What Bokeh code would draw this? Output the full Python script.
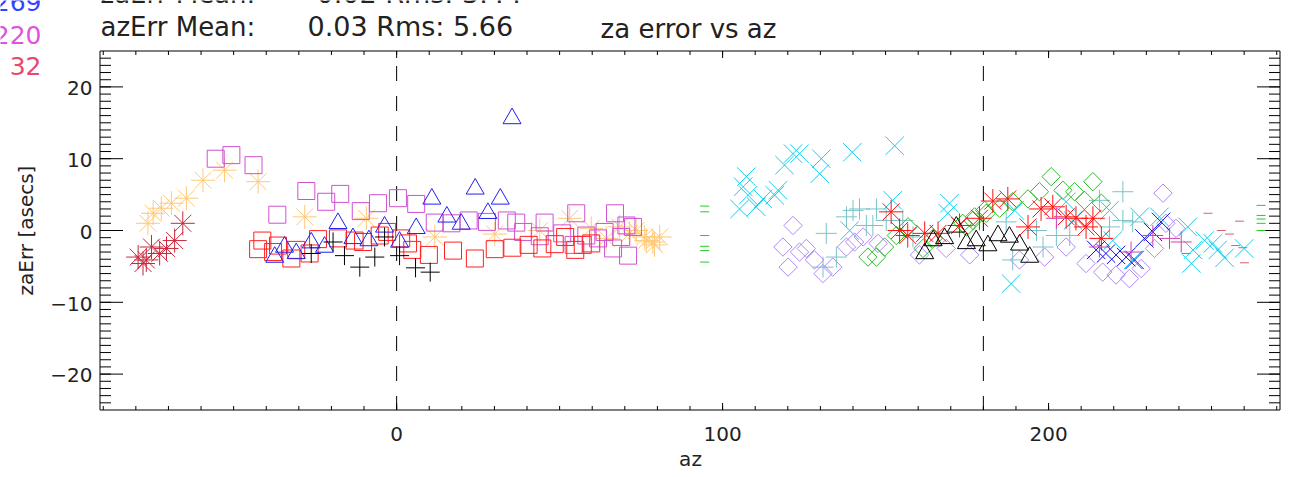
import numpy as np
from bokeh.plotting import figure
from bokeh.models import Range1d
from bokeh.core.properties import value
from bokeh.embed import file_html
from bokeh.resources import INLINE

# ---------------- data ----------------
# dark red asterisks
s1_x = [-79.3, -77.8, -76.8, -75.2, -72.7, -70.6, -68.1, -65.6]
s1_y = [-3.7, -4.6, -4.1, -2.3, -3.2, -2.5, -1.4, 1.0]
# light orange asterisks
s2_x = [-76.3, -74.7, -72.2, -69.1, -64.5, -59.4, -52.8, -42.5, -28.2, -9.3, 11.7, 30.1, 43.9,
        53.1, 59.7, 64.3, 68.4, 71.5, 73.5, 76.1, 78.6, 80.7, 79.1, 76.6]
s2_y = [1.0, 2.4, 3.1, 3.8, 4.5, 7.0, 8.4, 6.8, 1.9, 1.7, -0.9, -0.5, 0.0,
        1.7, 0.3, -1.1, 0.5, -0.4, 0.0, -0.9, -1.6, -0.9, -2.0, -1.4]
# magenta squares
s3_x = [-55.5, -50.7, -43.9, -36.6, -27.7, -21.6, -17.3, -11.0, -5.7, 0.4, 6.0, 11.7, 16.8, 22.1,
        27.7, 33.8, 36.7, 38.8, 45.4, 43.9, 50.8, 55.1, 54.3, 58.2, 61.8, 67.0, 63.8, 66.4, 70.5,
        71.0, 68.9, 72.5]
s3_y = [10.0, 10.5, 9.1, 2.2, 5.5, 4.0, 5.1, 2.7, 3.8, 4.5, 3.7, 1.1, 1.0, 1.4,
        1.2, 1.4, 1.1, -0.2, 1.1, -0.8, -0.4, 2.4, -2.0, -0.7, -1.1, 2.4, -0.2, -2.5, 0.7,
        -3.5, -0.9, 0.5]
# red squares
s4_x = [-41.2, -42.5, -36.4, -37.9, -32.3, -30.8, -26.7, -24.1, -18.0, -12.9, -10.3, -5.2, -2.9,
        1.4, 3.5, 4.8, 9.9, 17.3, 24.0, 30.1, 35.5, 40.5, 44.7, 48.5, 51.7, 54.8, 57.1, 59.7]
s4_y = [-1.4, -2.6, -2.1, -3.0, -3.9, -2.7, -3.2, -1.2, -1.1, -1.4, -1.6, -0.7, -0.2,
        -1.1, -1.8, -2.7, -3.4, -2.8, -3.9, -2.6, -2.4, -2.0, -2.5, -1.9, -0.9, -2.7, -2.0, -1.8]
# blue triangles
s5_x = [-37.4, -34.4, -30.8, -26.2, -22.1, -18.0, -13.4, -8.5, -3.7, 0.9, 6.0, 10.8, 15.4, 19.8,
        24.1, 28.0, 31.8, 35.4]
s5_y = [-3.7, -2.3, -3.2, -1.7, -2.3, 1.0, -1.1, -1.4, 0.5, -1.6, 0.3, 4.4, 1.9, 0.9,
        5.8, 2.4, 4.4, 15.6]
# black plus
s6_x = [-26.2, -19.5, -16.0, -11.3, -6.7, -3.7, 0.9, 5.8, 10.3]
s6_y = [-3.2, -1.6, -3.5, -5.1, -3.7, -0.9, -3.5, -5.2, -5.8]
# green dashes
s7_x = [94.5, 94.5, 94.5, 94.5, 94.5, 94.5, 265.2, 265.2, 265.2, 265.2, 265.2]
s7_y = [3.4, 2.6, -0.7, -2.2, -2.8, -4.4, 3.5, 2.1, 1.6, 1.0, 0.0]
# cyan X
s8_x = [107.3, 106.3, 105.2, 107.8, 110.3, 112.4, 116.0, 117.0, 119.0, 121.6, 123.6, 130.3, 129.8,
        139.8, 152.8, 139.0, 152.2, 169.6, 169.1, 188.5, 189.6, 205.4, 207.5, 218.7, 219.7, 227.9,
        225.9, 234.0, 242.7, 244.3, 243.8, 247.9, 250.4, 251.9, 254.0, 260.0]
s8_y = [7.5, 6.1, 3.0, 4.9, 3.3, 4.4, 4.9, 5.6, 9.1, 10.7, 10.7, 10.0, 7.9,
        10.9, 11.8, 0.0, 4.2, 3.8, 2.4, -7.4, 2.8, 4.0, 1.4, 2.8, -1.4, 1.9,
        -4.1, 1.9, 0.5, -2.7, -4.6, -1.4, -1.8, -2.7, -3.8, -2.5]
# light teal plus
s9_x = [131.8, 130.8, 134.9, 138.0, 140.0, 142.0, 144.1, 147.2, 146.1, 150.2, 155.3, 158.4, 187.0,
        189.0, 196.3, 198.3, 202.4, 206.5, 215.6, 218.7, 222.8, 222.8, 225.8]
s9_y = [-0.4, -5.1, -3.7, 1.9, 2.8, 3.0, 0.7, 3.0, 0.7, 1.4, 1.4, -0.9, 1.2,
        -4.1, 0.0, -2.3, -0.7, -0.7, 4.2, 0.5, 5.4, 1.4, 1.2]
# lavender diamonds
s10_x = [121.6, 118.5, 120.1, 123.6, 125.7, 128.2, 130.8, 133.8, 138.0, 140.5, 143.1, 147.7, 160.4,
         168.6, 175.8, 191.1, 198.8, 205.4, 211.5, 216.6, 220.7, 224.8, 228.4, 232.5, 235.1, 236.0,
         239.1]
s10_y = [0.7, -2.3, -5.1, -3.0, -2.5, -4.1, -6.0, -5.1, -2.3, -1.6, -0.9, -1.8, -3.4,
         -2.5, -3.4, -4.1, -3.7, -2.3, -4.6, -5.8, -6.2, -6.7, -5.3, -2.5, 5.2, 1.0, 0.3]
# green diamonds
s11_x = [144.6, 147.2, 149.7, 153.3, 156.9, 161.5, 164.6, 173.7, 174.8, 176.8, 177.3, 180.4, 180.9,
         185.0, 189.0, 193.7, 197.2, 200.8, 204.4, 208.0, 211.0, 213.6, 216.2]
s11_y = [-3.7, -3.7, -2.3, -0.7, 0.5, -2.5, -1.1, 1.0, 0.5, 1.4, 1.9, 2.8, 2.4,
         3.1, 4.0, 4.4, 5.4, 7.5, 5.6, 5.4, 4.2, 6.8, 3.8]
# red asterisks
s12_x = [151.7, 154.3, 156.8, 162.0, 166.1, 172.7, 178.8, 182.9, 187.5, 193.7, 197.7, 201.3, 205.4,
         208.4, 211.5, 213.6, 216.2]
s12_y = [2.6, 0.0, -0.7, -0.4, -0.4, 0.7, 1.7, 4.1, 4.4, 0.5, 3.0, 3.3, 1.9,
         1.7, 0.5, 1.7, -1.1]
# black triangles
s13_x = [162.0, 164.6, 168.1, 171.7, 174.8, 177.8, 181.4, 184.5, 188.0, 191.1, 194.2]
s13_y = [-3.2, -1.4, -1.1, 0.5, -1.8, -1.4, -2.1, -0.7, -0.9, -2.0, -3.7]
# blue X
s14_x = [214.6, 217.6, 220.7, 223.8, 226.4, 229.4, 232.0, 234.5]
s14_y = [-2.7, -3.2, -3.4, -3.7, -4.1, -1.1, -0.2, 1.2]
# magenta plus
s15_x = [202.4, 215.6, 225.3, 232.0, 237.1, 240.7]
s15_y = [1.7, -2.3, -3.0, -0.7, -1.1, -1.6]
# rose dashes
s16_x = [242.2, 248.9, 253.0, 255.5, 258.6, 257.4, 259.6, 260.1]
s16_y = [-3.2, 2.4, 0.0, -0.5, 1.3, -2.1, -2.4, -4.5]

vline_az = [0, 180]
x_major = [0, 100, 200]
x_tick_labels = ["0", "100", "200"]
x_minor = list(range(-90, 271, 10))
y_major = [-20, -10, 0, 10, 20]
y_tick_labels = ["\u221220", "\u221210", "0", "10", "20"]
y_minor = list(range(-24, 25, 1))

title_text = "za error vs az"
x_label = "az"
y_label = "zaErr [asecs]"
stat_left = ["zaErr Mean:", "azErr Mean:"]
stat_right = ["0.02 Rms: 3.44", "0.03 Rms: 5.66"]
count_labels = ["269", "220", "32"]
count_colors = ["#3344ff", "#dd55dd", "#e8486a"]

# ---------------- layout: the plot box, in data and in pixels ----------------
X_LO, X_HI, Y_LO, Y_HI = -91.0, 271.0, -25.0, 25.0
W, H = 1299, 477
PX_L, PX_R, PX_T, PX_B = 99.5, 1279.5, 50.5, 409.5
KX = (PX_R - PX_L) / (X_HI - X_LO)
KY = (PX_B - PX_T) / (Y_HI - Y_LO)
BASE_SHIFT = 0.38  # correction (in em) between wanted baseline and Bokeh's alphabetic anchor


def dx(px):
    return X_LO + (px - PX_L) / KX


def dy(py):
    return Y_HI - (py - PX_T) / KY


def base_y(py, size):
    return dy(py - BASE_SHIFT * size)


FONT = value("DejaVu Sans")
TXT = "#222222"

p = figure(width=W, height=H, output_backend="svg", toolbar_location=None,
           x_range=Range1d(dx(0), dx(W)), y_range=Range1d(dy(H), dy(0)),
           x_axis_location=None, y_axis_location=None, min_border=0)
p.outline_line_color = None
p.xgrid.visible = False
p.ygrid.visible = False
p.background_fill_color = "white"
p.border_fill_color = "white"

# ---------------- axes box, ticks and tick labels ----------------
p.segment(x0=[X_LO, X_LO, X_LO, X_HI], y0=[Y_LO, Y_HI, Y_LO, Y_LO],
          x1=[X_HI, X_HI, X_LO, X_HI], y1=[Y_LO, Y_HI, Y_HI, Y_HI],
          line_color="black", line_width=1)
nxM, nxm, nyM, nym = len(x_major), len(x_minor), len(y_major), len(y_minor)
p.ray(x=x_major, y=[Y_LO] * nxM, length=7, length_units="screen", angle=np.pi / 2, line_color="black")
p.ray(x=x_major, y=[Y_HI] * nxM, length=7, length_units="screen", angle=-np.pi / 2, line_color="black")
p.ray(x=x_minor, y=[Y_LO] * nxm, length=4, length_units="screen", angle=np.pi / 2, line_color="black")
p.ray(x=x_minor, y=[Y_HI] * nxm, length=4, length_units="screen", angle=-np.pi / 2, line_color="black")
p.ray(x=[X_LO] * nyM, y=y_major, length=23, length_units="screen", angle=0, line_color="black")
p.ray(x=[X_HI] * nyM, y=y_major, length=23, length_units="screen", angle=np.pi, line_color="black")
p.ray(x=[X_LO] * nym, y=y_minor, length=11, length_units="screen", angle=0, line_color="black")
p.ray(x=[X_HI] * nym, y=y_minor, length=11, length_units="screen", angle=np.pi, line_color="black")

p.text(x=x_major, y=[base_y(441, 20)] * nxM, text=x_tick_labels, text_align="center",
       text_baseline="alphabetic", text_font=FONT, text_font_size="20px", text_color=TXT)
p.text(x=[dx(92)] * nyM, y=[v - 1.2 / KY for v in y_major], text=y_tick_labels, text_align="right",
       text_baseline="middle", text_font=FONT, text_font_size="20px", text_color=TXT)
p.text(x=[dx(690)], y=[base_y(466, 20)], text=[x_label], text_align="center",
       text_baseline="alphabetic", text_font=FONT, text_font_size="20px", text_color=TXT)
p.text(x=[dx(33.5 - BASE_SHIFT * 20)], y=[0.0], text=[y_label], angle=np.pi / 2, text_align="center",
       text_baseline="alphabetic", text_font=FONT, text_font_size="20px", text_color=TXT)

# dashed verticals
p.segment(x0=vline_az, y0=[Y_HI] * 2, x1=vline_az, y1=[Y_LO] * 2,
          line_color="black", line_width=1, line_dash="15 15", line_dash_offset=15)

# ---------------- data marks ----------------
series = [
    (s1_x, s1_y, "asterisk", "#c8283c", 24, 0),
    (s2_x, s2_y, "asterisk", "#ffc878", 24, 0),
    (s3_x, s3_y, "square", "#d050d0", 17, 0),
    (s4_x, s4_y, "square", "#ff2020", 17, 0),
    (s5_x, s5_y, "triangle", "#2020f0", 18, 0),
    (s6_x, s6_y, "cross", "#000000", 19, 0),
    (s7_x, s7_y, "dash", "#22cc22", 9, 0),
    (s8_x, s8_y, "x", "#10d0f0", 26, 0),
    (s9_x, s9_y, "cross", "#78c4c8", 21, 0),
    (s10_x, s10_y, "square", "#b088f8", 13, np.pi / 4),
    (s11_x, s11_y, "square", "#28c028", 13, np.pi / 4),
    (s12_x, s12_y, "asterisk", "#ff1010", 24, 0),
    (s13_x, s13_y, "triangle", "#000000", 18, 0),
    (s14_x, s14_y, "x", "#1010e0", 26, 0),
    (s15_x, s15_y, "cross", "#d040b0", 21, 0),
    (s16_x, s16_y, "dash", "#d86070", 9, 0),
]
for xs, ys, mk, col, sz, ang in series:
    p.scatter(xs, ys, marker=mk, size=sz, angle=ang, line_color=col, fill_color=None, line_width=1)

# ---------------- texts around the plot ----------------
p.text(x=[dx(688)], y=[base_y(38.3, 26)], text=[title_text], text_align="center", text_baseline="alphabetic",
       text_font=FONT, text_font_size="26px", text_color=TXT)
p.text(x=[dx(100)] * 2, y=[base_y(3, 26), base_y(36, 26)], text=stat_left, text_align="left",
       text_baseline="alphabetic", text_font=FONT, text_font_size="26px", text_color=TXT)
p.text(x=[dx(316), dx(307)], y=[base_y(3, 27), base_y(36, 27)], text=stat_right, text_align="left",
       text_baseline="alphabetic", text_font=FONT, text_font_size="27px", text_color=TXT)
p.text(x=[dx(41)] * 3, y=[base_y(10.5, 25), base_y(43.5, 25), base_y(75, 25)], text=count_labels,
       text_align="right", text_baseline="alphabetic", text_font=FONT, text_font_size="25px",
       text_color=count_colors)

open("out.html", "w").write(file_html(p, INLINE))
